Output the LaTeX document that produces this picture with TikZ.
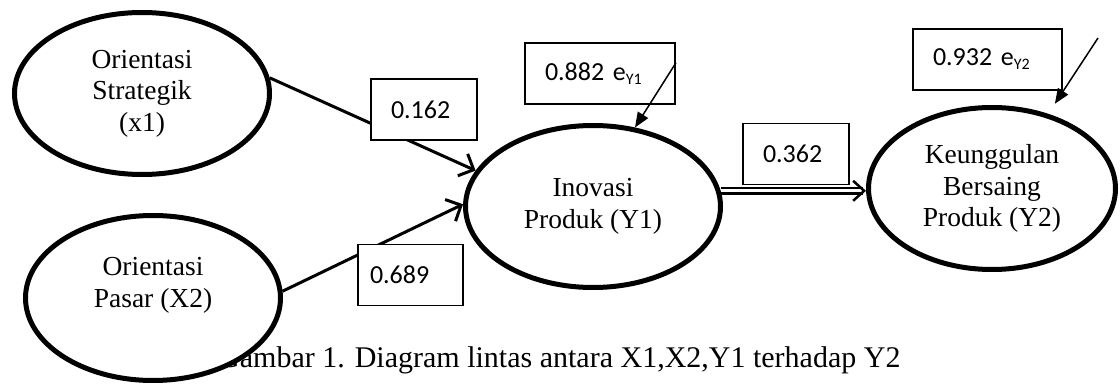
\documentclass[tikz,border=0pt]{standalone}
\usepackage{fontspec}
\setmainfont{Liberation Serif}
\newfontfamily\calibrifont{Carlito}
\usetikzlibrary{shapes.geometric,arrows.meta,calc}
\newcommand\esub[1]{e\raisebox{-4pt}{\fontsize{16}{16}\selectfont #1}}
\tikzset{
  latent/.style={ellipse, draw, line width=5pt, fill=white, align=center,
    font=\fontsize{27.5}{31.5}\selectfont, inner sep=0pt},
  valbox/.style={rectangle, draw, line width=1.8pt, fill=white, align=left,
    font=\calibrifont\fontsize{26}{30}\selectfont, inner xsep=20pt, inner ysep=0pt,
    minimum height=61pt},
  pathline/.style={line width=3pt, -{Straight Barb[length=12pt,width=24pt]}},
  errarrow/.style={line width=1.5pt, -{Triangle[length=15pt,width=12pt]}},
  dblarrow/.style={double, double distance=3pt, line width=2.2pt,
    -{Straight Barb[length=11pt,width=20pt,line width=2.5pt]}},
}
\begin{document}
\begin{tikzpicture}[x=1pt,y=-1pt]
\useasboundingbox (0,0) rectangle (1120,385);
% caption (partly hidden behind the lower-left ellipse)
\node[anchor=base west, inner sep=0pt, font=\fontsize{30}{34}\selectfont] (cap) at (218,367)
  {Gambar 1. Diagram lintas antara X1,X2,Y1 terhadap Y2};
% latent variables
\node[latent, minimum width=255pt, minimum height=162pt] (x1) at (142,93.5)
  {Orientasi\\Strategik\\(x1)};
\node[latent, minimum width=255pt, minimum height=165pt] (x2) at (153,298)
  {Orientasi\\Pasar (X2)\\\mbox{}};
\node[latent, minimum width=255pt, minimum height=162pt] (y1) at (593,206.5)
  {Inovasi\\Produk (Y1)};
\node[latent, minimum width=247pt, minimum height=162pt] (y2) at (992,188.5)
  {Keunggulan\\Bersaing\\Produk (Y2)};
% paths
\draw[pathline] (x1.7) -- (y1.163);
\draw[pathline] (x2.3) -- (y1.179);
\draw[dblarrow] (y1.7) -- (y1.7 -| y2.west);
% coefficient boxes
\node[valbox, text width=66pt] (b162) at (424,109.5) {0.162};
\node[valbox, text width=81pt, inner xsep=12pt] (b689) at (410.5,275) {0.689};
\node[valbox, text width=110pt] (b882) at (600,73.5) {0.882 \esub{Y1}};
\node[valbox, text width=66pt] (b362) at (796,154) {0.362};
\node[valbox, text width=109pt] (b932) at (987.5,59.5) {0.932 \esub{Y2}};
% error arrows
\draw[errarrow] ($(b882.north east)!0.33!(b882.south east)$) -- (y1.62);
\coordinate (e2s) at (1098,38);
\draw[errarrow, shorten >=12pt] (e2s) -- (y2.53);
\end{tikzpicture}
\end{document}
